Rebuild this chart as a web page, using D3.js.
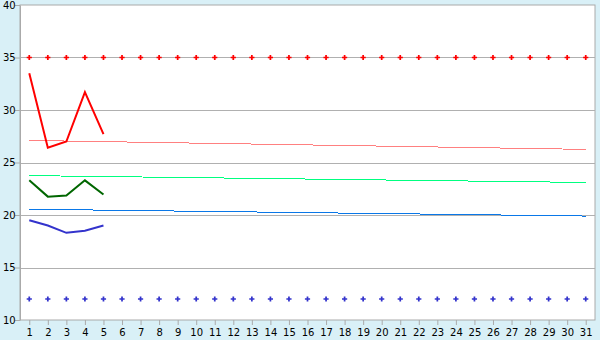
<!DOCTYPE html>
<html>
<head>
<meta charset="utf-8">
<script src="https://cdn.jsdelivr.net/npm/d3@7"></script>
<style>
  body { margin: 0; background: #d9f0f7; }
  svg { display: block; }
  .axis text { font-family: "DejaVu Sans", Verdana, sans-serif; font-size: 10px; fill: #000; }
  .axis path, .axis line { stroke: #aaa; }
</style>
</head>
<body>
<svg id="chart"></svg>
<script>
// Days of the month (x categories)
const days = d3.range(1, 32);
const yTicks = [10, 15, 20, 25, 30, 35, 40];

// Measured series (first five days)
const redValues = [33.5, 26.4, 27.0, 31.7, 27.7];
const greenValues = [23.3, 21.75, 21.85, 23.3, 21.95];
const navyValues = [19.5, 19.0, 18.3, 18.5, 19.0];

// Trend lines: value at day 1 and day 31
const pinkTrend = [27.1, 26.25];
const springTrend = [23.75, 23.1];
const blueTrend = [20.55, 19.9];

// Constant limit markers
const upperLimit = 35;
const lowerLimit = 12;

const width = 600, height = 340;
const margin = { top: 5, right: 5, bottom: 20, left: 20 };
const innerW = width - margin.left - margin.right;
const innerH = height - margin.top - margin.bottom;

const svg = d3.select('#chart')
  .attr('width', width)
  .attr('height', height);

const chart = svg.append('g')
  .attr('transform', `translate(${margin.left},${margin.top})`);

const xScale = d3.scalePoint()
  .domain(days)
  .range([0, innerW])
  .padding(0.5);

const yScale = d3.scaleLinear()
  .domain([10, 40])
  .range([innerH, 0]);

// Plot background
chart.append('rect')
  .attr('width', innerW)
  .attr('height', innerH)
  .attr('fill', '#fff')
  .attr('stroke', '#aaa');

// Gridlines
chart.selectAll('.grid')
  .data(yTicks.slice(1, -1))
  .join('line')
    .attr('class', 'grid')
    .attr('x1', 0)
    .attr('x2', innerW)
    .attr('y1', d => Math.round(yScale(d)) + 0.5)
    .attr('y2', d => Math.round(yScale(d)) + 0.5)
    .attr('stroke', '#b0b0b0');

// Axes
const yAxis = d3.axisLeft(yScale).tickValues(yTicks).tickSize(5).tickSizeOuter(0);
const yAxisG = chart.append('g').attr('class', 'axis').call(yAxis);
yAxisG.selectAll('text').attr('text-anchor', 'start').attr('x', -17);

const xAxis = d3.axisBottom(xScale).tickSize(5).tickSizeOuter(0);
const xAxisG = chart.append('g')
  .attr('class', 'axis')
  .attr('transform', `translate(0,${innerH})`)
  .call(xAxis);
xAxisG.select('.domain').remove();
xAxisG.selectAll('text').attr('dy', '0.95em').attr('y', 6);

// Trend lines
const trendLine = d3.line()
  .x((d, i) => xScale(i === 0 ? days[0] : days[days.length - 1]))
  .y(d => yScale(d));

[[pinkTrend, '#ff8080'], [springTrend, '#00ff80'], [blueTrend, '#0a78e8']].forEach(([vals, color]) => {
  chart.append('path')
    .datum(vals)
    .attr('d', trendLine)
    .attr('fill', 'none')
    .attr('stroke', color)
    .attr('stroke-width', 1)
    .attr('shape-rendering', 'crispEdges');
});

// Measured series
const dataLine = d3.line()
  .x((d, i) => xScale(days[i]))
  .y(d => yScale(d));

[[redValues, '#ff0000'], [greenValues, '#006600'], [navyValues, '#3333cc']].forEach(([vals, color]) => {
  chart.append('path')
    .datum(vals)
    .attr('d', dataLine)
    .attr('fill', 'none')
    .attr('stroke', color)
    .attr('stroke-width', 2);
});

// Limit markers
const cross = d3.symbol().type(d3.symbolCross).size(15);
[[upperLimit, '#ff0000'], [lowerLimit, '#3333cc']].forEach(([val, color]) => {
  chart.append('g').selectAll('path')
    .data(days)
    .join('path')
      .attr('d', cross)
      .attr('transform', d => `translate(${xScale(d)},${yScale(val)})`)
      .attr('fill', color);
});
</script>
</body>
</html>
